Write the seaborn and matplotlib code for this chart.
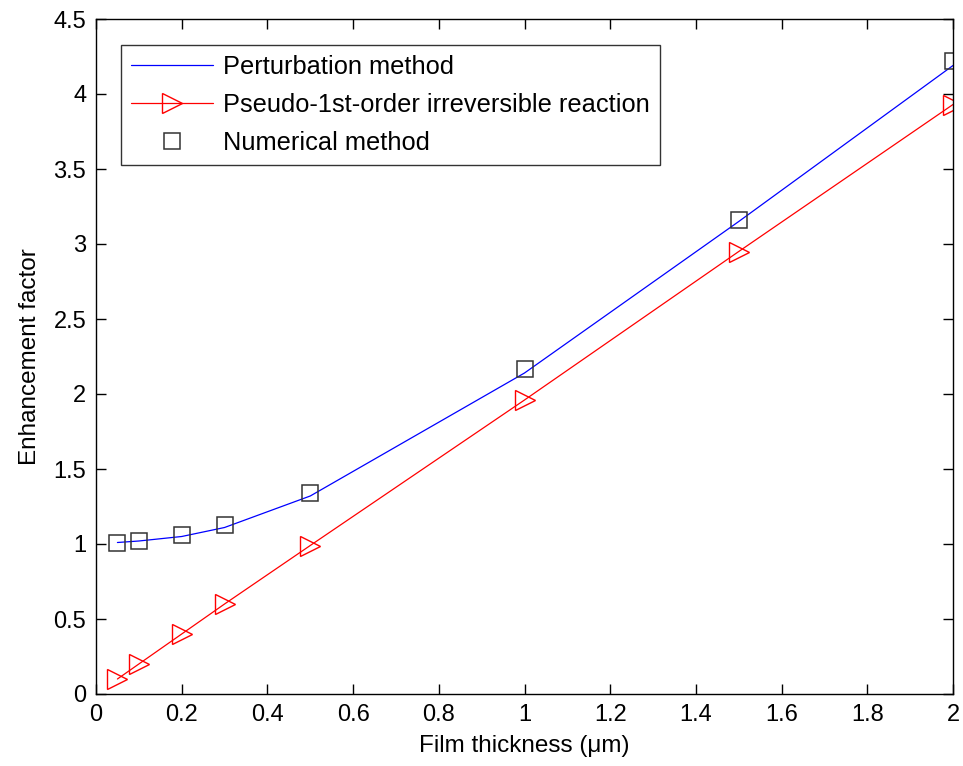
import matplotlib
matplotlib.use("Agg")
import matplotlib.pyplot as plt
import seaborn as sns
import pandas as pd

# Data
thickness = [0.05, 0.1, 0.2, 0.3, 0.5, 1.0, 1.5, 2.0]
perturbation = [1.01, 1.02, 1.05, 1.11, 1.32, 2.14, 3.15, 4.19]
pseudo_first = [0.10, 0.20, 0.40, 0.60, 0.99, 1.96, 2.95, 3.93]
numerical = [1.01, 1.02, 1.06, 1.13, 1.34, 2.17, 3.16, 4.22]
xticks = [0, 0.2, 0.4, 0.6, 0.8, 1, 1.2, 1.4, 1.6, 1.8, 2]
yticks = [0, 0.5, 1, 1.5, 2, 2.5, 3, 3.5, 4, 4.5]

sns.set_style("white")
plt.rcParams['font.family'] = ['Liberation Sans', 'DejaVu Sans']
plt.rcParams['text.color'] = 'black'
plt.rcParams['axes.labelcolor'] = 'black'
plt.rcParams['xtick.color'] = 'black'
plt.rcParams['ytick.color'] = 'black'

df_line = pd.DataFrame({"x": thickness, "pert": perturbation, "pseudo": pseudo_first, "num": numerical})

fig = plt.figure(figsize=(9.63, 7.66), dpi=100)
ax = fig.add_axes([96 / 963, 72 / 766, 857 / 963, 675 / 766])

sns.lineplot(data=df_line, x="x", y="pert", ax=ax, color="#0000ff", linewidth=0.9,
             label="Perturbation method")
sns.lineplot(data=df_line, x="x", y="pseudo", ax=ax, color="#ff0000", linewidth=0.9,
             marker=">", markersize=14, markerfacecolor="none", markeredgecolor="#ff0000",
             markeredgewidth=1.0, label="Pseudo-1st-order irreversible reaction")
ax.plot(df_line["x"], df_line["num"], linestyle="none", marker="s", markersize=11.5,
        markerfacecolor="none", markeredgecolor="#333333", markeredgewidth=1.1,
        label="Numerical method")

ax.set_xlim(0, 2)
ax.set_ylim(0, 4.5)
ax.set_xticks(xticks)
ax.set_xticklabels([f"{t:g}" for t in xticks])
ax.set_yticks(yticks)
ax.set_yticklabels([f"{t:g}" for t in yticks])
ax.tick_params(direction="in", length=7, width=1, labelsize=17, top=True, right=True,
               bottom=True, left=True, pad=7, colors="black")
for s in ax.spines.values():
    s.set_color("black")
    s.set_linewidth(1.0)

ax.set_xlabel("Film thickness (μm)", fontsize=17.5, labelpad=7)
ax.set_ylabel("Enhancement factor", fontsize=17.5, labelpad=9)

leg = ax.legend(loc="upper left", bbox_to_anchor=(25 / 857, 1 - 26 / 675), fontsize=18.3,
                frameon=True, fancybox=False, edgecolor="black", handlelength=3.2,
                borderpad=0.4, labelspacing=0.55, handletextpad=0.4, borderaxespad=0)
leg.get_frame().set_linewidth(1.0)
for t in leg.get_texts():
    t.set_color("black")

fig.savefig("out.png", dpi=100)
